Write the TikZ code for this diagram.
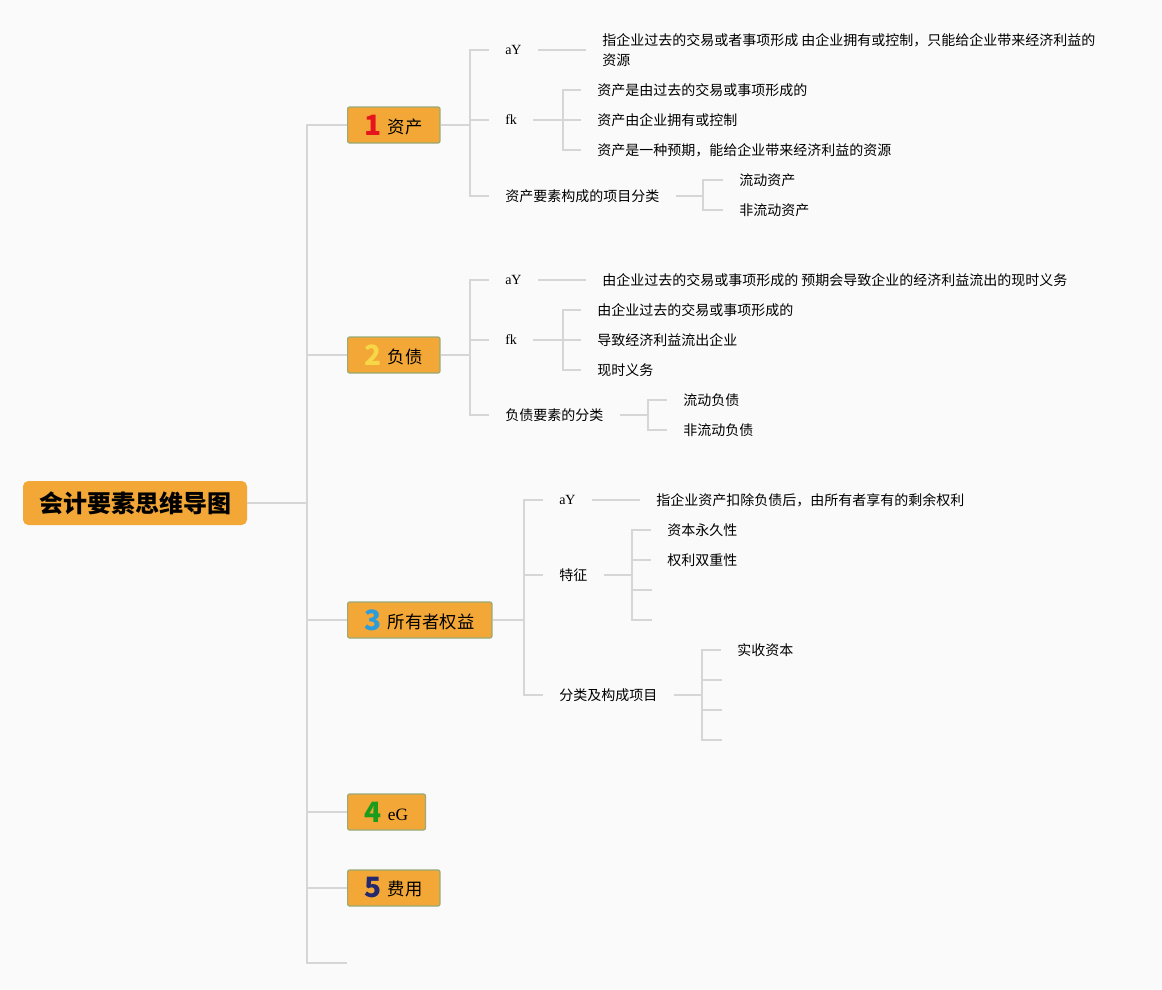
\documentclass[tikz,border=0pt]{standalone}
\usepackage{fontspec}
\setmainfont{Liberation Serif}
\newfontfamily\cjk{Noto Sans CJK SC}
\usepackage{tikz}
\definecolor{bgc}{RGB}{250,250,250}
\definecolor{boxc}{RGB}{243,167,55}
\definecolor{edgec}{RGB}{152,170,118}
\definecolor{linkc}{RGB}{214,214,214}
\definecolor{numa}{RGB}{230,20,28}
\definecolor{numb}{RGB}{247,214,72}
\definecolor{numc}{RGB}{44,156,219}
\definecolor{numd}{RGB}{28,156,28}
\definecolor{nume}{RGB}{36,40,110}
\newcommand{\numtag}[3]{{\bfseries\fontsize{21}{21}\selectfont\color{#1}#2}\hspace{4.5pt}\raisebox{1.5pt}{#3}}

\begin{document}
\begin{tikzpicture}[x=0.75pt,y=0.75pt,yscale=-1,xscale=1,
  link/.style={draw=linkc,line width=1.5pt},
  rootbox/.style={fill=boxc,rounded corners=4pt,inner xsep=12pt,minimum height=33pt,font=\cjk\bfseries\fontsize{18}{22}\selectfont},
  mainbox/.style={anchor=west,fill=boxc,draw=edgec,line width=0.9pt,rounded corners=1.5pt,minimum height=27pt,inner xsep=13pt,inner ysep=0pt,font=\cjk\fontsize{13}{15}\selectfont},
  leaf/.style={anchor=west,inner xsep=12pt,inner ysep=1pt,font=\cjk\fontsize{10.5}{15}\selectfont},
  latin/.style={leaf,font=\rmfamily\fontsize{10.5}{15}\selectfont}]

%Background
\fill[bgc] (0,0) rectangle (1162,989);
\useasboundingbox (0,0) rectangle (1162,989);

% Root Node
\node[rootbox] (root) at (135,503) {会计要素思维导图};

% Main Nodes
\node[mainbox] (zc) at (347,125) {\numtag{numa}{1}{资产}};
\node[mainbox] (fz) at (347,355) {\numtag{numb}{2}{负债}};
\node[mainbox] (qy) at (347,620) {\numtag{numc}{3}{所有者权益}};
\node[mainbox] (sr) at (347,812) {\numtag{numd}{4}{\rmfamily eG}};
\node[mainbox] (fy) at (347,888) {\numtag{nume}{5}{费用}};
\coordinate (kong) at (347,963);

%Trunk
\coordinate (trunk) at (307,503);
\draw[link] (root.east) -- (trunk);
\foreach \n in {zc,fz,qy,sr,fy} \draw[link] (trunk) |- (\n.west);
\draw[link] (trunk) |- (kong);

% Text Node: zichan
\node[latin] (zcdy) at (489,50) {aY};
\node[latin] (zctz) at (489,120) {fk};
\node[leaf] (zcfl) at (489,196) {资产要素构成的项目分类};
\node[leaf,align=left] (zcdyt) at (586,50) {指企业过去的交易或者事项形成 由企业拥有或控制，只能给企业带来经济利益的\\资源};
\node[leaf] (zctza) at (581,90) {资产是由过去的交易或事项形成的};
\node[leaf] (zctzb) at (581,120) {资产由企业拥有或控制};
\node[leaf] (zctzc) at (581,150) {资产是一种预期，能给企业带来经济利益的资源};
\node[leaf] (zcfla) at (723,180) {流动资产};
\node[leaf] (zcflb) at (723,210) {非流动资产};
\coordinate (b1) at (470,125);
\coordinate (b1t) at (563,120);
\coordinate (b1f) at (703,196);
\draw[link] (zc.east) -- (b1);
\foreach \c in {zcdy,zctz,zcfl} \draw[link] (b1) |- (\c.west);
\draw[link] (zcdy.east) -- (zcdyt.west);
\draw[link] (zctz.east) -- (b1t);
\foreach \c in {zctza,zctzb,zctzc} \draw[link] (b1t) |- (\c.west);
\draw[link] (zcfl.east) -- (b1f);
\foreach \c in {zcfla,zcflb} \draw[link] (b1f) |- (\c.west);

% Text Node: fuzhai
\node[latin] (fzdy) at (489,280) {aY};
\node[latin] (fztz) at (489,340) {fk};
\node[leaf] (fzfl) at (489,415) {负债要素的分类};
\node[leaf] (fzdyt) at (586,280) {由企业过去的交易或事项形成的 预期会导致企业的经济利益流出的现时义务};
\node[leaf] (fztza) at (581,310) {由企业过去的交易或事项形成的};
\node[leaf] (fztzb) at (581,340) {导致经济利益流出企业};
\node[leaf] (fztzc) at (581,370) {现时义务};
\node[leaf] (fzfla) at (667,400) {流动负债};
\node[leaf] (fzflb) at (667,430) {非流动负债};
\coordinate (b2) at (470,355);
\coordinate (b2t) at (563,340);
\coordinate (b2f) at (648,415);
\draw[link] (fz.east) -- (b2);
\foreach \c in {fzdy,fztz,fzfl} \draw[link] (b2) |- (\c.west);
\draw[link] (fzdy.east) -- (fzdyt.west);
\draw[link] (fztz.east) -- (b2t);
\foreach \c in {fztza,fztzb,fztzc} \draw[link] (b2t) |- (\c.west);
\draw[link] (fzfl.east) -- (b2f);
\foreach \c in {fzfla,fzflb} \draw[link] (b2f) |- (\c.west);

% Text Node: quanyi
\node[latin] (qydy) at (543,500) {aY};
\node[leaf] (qytz) at (543,575) {特征};
\node[leaf] (qyfl) at (543,695) {分类及构成项目};
\node[leaf] (qydyt) at (640,500) {指企业资产扣除负债后，由所有者享有的剩余权利};
\node[leaf] (qytza) at (651,530) {资本永久性};
\node[leaf] (qytzb) at (651,560) {权利双重性};
\coordinate (qytzc) at (652,590);
\coordinate (qytzd) at (652,620);
\node[leaf] (qyfla) at (721,650) {实收资本};
\coordinate (qyflb) at (722,680);
\coordinate (qyflc) at (722,710);
\coordinate (qyfld) at (722,740);
\coordinate (b3) at (524,620);
\coordinate (b3t) at (632,575);
\coordinate (b3f) at (702,695);
\draw[link] (qy.east) -- (b3);
\foreach \c in {qydy,qytz,qyfl} \draw[link] (b3) |- (\c.west);
\draw[link] (qydy.east) -- (qydyt.west);
\draw[link] (qytz.east) -- (b3t);
\foreach \c in {qytza,qytzb} \draw[link] (b3t) |- (\c.west);
\foreach \c in {qytzc,qytzd} \draw[link] (b3t) |- (\c);
\draw[link] (qyfl.east) -- (b3f);
\draw[link] (b3f) |- (qyfla.west);
\foreach \c in {qyflb,qyflc,qyfld} \draw[link] (b3f) |- (\c);

\end{tikzpicture}
\end{document}
